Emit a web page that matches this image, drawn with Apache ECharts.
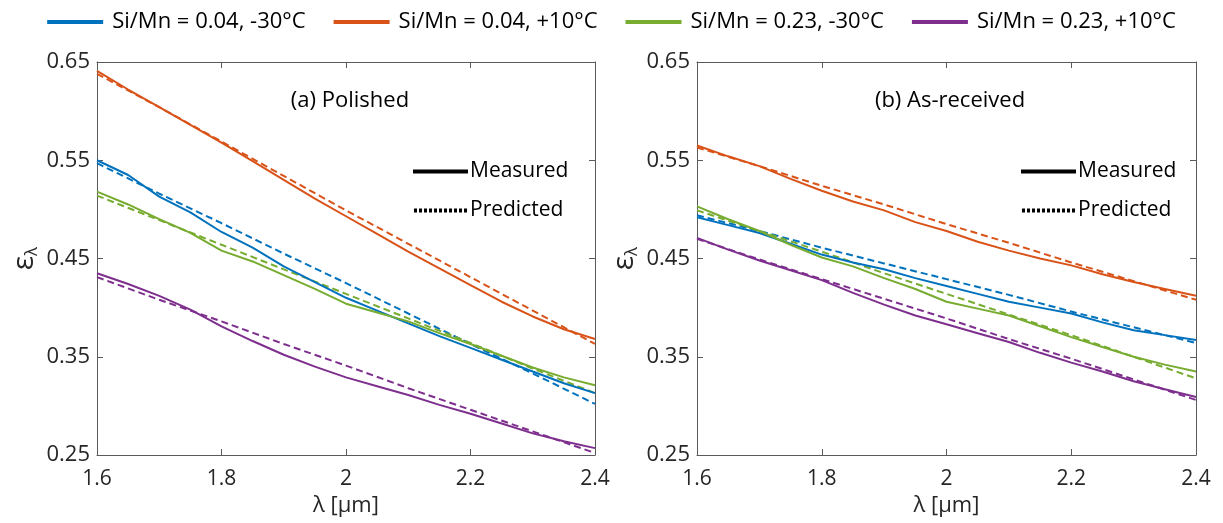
<!DOCTYPE html>
<html>
<head>
<meta charset="utf-8">
<script src="https://cdn.jsdelivr.net/npm/echarts@6/dist/echarts.min.js"></script>
<style>
	html, body { margin: 0; padding: 0; background: #ffffff; }
	#emissivityChart { width: 1223px; height: 523px; }
</style>
</head>
<body>
<div id="emissivityChart"></div>
<script>
	// wavelength grids [um]
	var lambdaMeasured = [1.6, 1.65, 1.7, 1.75, 1.8, 1.85, 1.9, 1.95, 2.0, 2.05, 2.1, 2.15, 2.2, 2.25, 2.3, 2.35, 2.4];
	var lambdaPredicted = [1.6, 1.7, 1.8, 1.9, 2.0, 2.1, 2.2, 2.3, 2.4];

	var xTicks = [1.6, 1.8, 2.0, 2.2, 2.4];
	var yTicks = [0.25, 0.35, 0.45, 0.55, 0.65];

	var seriesNames = ['Si/Mn = 0.04, -30°C', 'Si/Mn = 0.04, +10°C', 'Si/Mn = 0.23, -30°C', 'Si/Mn = 0.23, +10°C'];
	var seriesColors = ['#0072BD', '#D95319', '#77AC30', '#7E2F8E'];

	// (a) polished - measured
	var polishedMeasured004Cold = [0.550, 0.535, 0.513, 0.497, 0.477, 0.461, 0.442, 0.426, 0.410, 0.397, 0.384, 0.371, 0.359, 0.347, 0.335, 0.323, 0.313];
	var polishedMeasured004Warm = [0.641, 0.622, 0.604, 0.586, 0.568, 0.549, 0.530, 0.511, 0.493, 0.475, 0.457, 0.440, 0.423, 0.406, 0.391, 0.378, 0.368];
	var polishedMeasured023Cold = [0.518, 0.505, 0.490, 0.476, 0.458, 0.447, 0.433, 0.419, 0.404, 0.395, 0.386, 0.374, 0.363, 0.351, 0.339, 0.329, 0.321];
	var polishedMeasured023Warm = [0.435, 0.424, 0.412, 0.398, 0.381, 0.366, 0.352, 0.340, 0.329, 0.320, 0.311, 0.301, 0.292, 0.282, 0.272, 0.264, 0.257];

	// (a) polished - predicted
	var polishedPredicted004Cold = [0.547, 0.516, 0.486, 0.455, 0.425, 0.394, 0.363, 0.333, 0.302];
	var polishedPredicted004Warm = [0.638, 0.604, 0.569, 0.534, 0.499, 0.465, 0.431, 0.397, 0.363];
	var polishedPredicted023Cold = [0.514, 0.489, 0.464, 0.439, 0.414, 0.389, 0.364, 0.338, 0.313];
	var polishedPredicted023Warm = [0.431, 0.408, 0.386, 0.363, 0.341, 0.318, 0.296, 0.274, 0.252];

	// (b) as-received - measured
	var asReceivedMeasured004Cold = [0.492, 0.484, 0.476, 0.465, 0.454, 0.446, 0.439, 0.430, 0.422, 0.414, 0.406, 0.400, 0.394, 0.385, 0.377, 0.372, 0.367];
	var asReceivedMeasured004Warm = [0.565, 0.554, 0.544, 0.531, 0.519, 0.508, 0.499, 0.487, 0.478, 0.467, 0.458, 0.450, 0.443, 0.434, 0.426, 0.419, 0.412];
	var asReceivedMeasured023Cold = [0.503, 0.490, 0.478, 0.464, 0.451, 0.442, 0.430, 0.419, 0.406, 0.399, 0.392, 0.381, 0.370, 0.360, 0.350, 0.342, 0.335];
	var asReceivedMeasured023Warm = [0.471, 0.459, 0.448, 0.438, 0.428, 0.415, 0.403, 0.392, 0.383, 0.374, 0.365, 0.354, 0.344, 0.335, 0.325, 0.317, 0.309];

	// (b) as-received - predicted
	var asReceivedPredicted004Cold = [0.494, 0.478, 0.461, 0.445, 0.429, 0.413, 0.396, 0.380, 0.364];
	var asReceivedPredicted004Warm = [0.563, 0.544, 0.524, 0.505, 0.485, 0.466, 0.446, 0.427, 0.408];
	var asReceivedPredicted023Cold = [0.499, 0.478, 0.457, 0.435, 0.414, 0.393, 0.372, 0.350, 0.328];
	var asReceivedPredicted023Warm = [0.470, 0.449, 0.429, 0.409, 0.389, 0.368, 0.348, 0.327, 0.306];

	var fontFamily = 'Open Sans';
	var textColor = '#262626';
	var axisColor = '#5a5a5a';

	var emissivityChart = echarts.init(document.getElementById('emissivityChart'));

	var toPairs = function(xs, ys){
		return xs.map(function(x, i){
			return [x, ys[i]];
		});
	};

	var tickFormatter = function(value){
		return String(+value.toFixed(2));
	};

	// legend icons: a solid bar and a dotted bar, 55 x 4
	var solidIcon = 'path://M0,0H55V4H0Z';
	var dottedIcon = 'path://';
	for (var d = 0; d < 11; d++){
		dottedIcon += 'M' + (d * 5) + ',0h3v4h-3Z';
	}

	// bottom x axis with labels and name
	var bottomAxis = function(gridIndex){
		return {
			type: 'value', gridIndex: gridIndex, position: 'bottom',
			min: 1.6, max: 2.4,
			name: 'λ [μm]', nameLocation: 'middle', nameGap: 38,
			nameTextStyle: { fontSize: 22, color: textColor, fontFamily: fontFamily },
			axisLine: { show: true, onZero: false, lineStyle: { color: axisColor, width: 1 } },
			axisTick: { show: true, inside: true, length: 6, customValues: xTicks, lineStyle: { color: axisColor } },
			axisLabel: { customValues: xTicks, fontSize: 21, color: textColor, fontFamily: fontFamily, margin: 14, formatter: tickFormatter },
			splitLine: { show: false }
		};
	};

	// top x axis, only frame and ticks
	var topAxis = function(gridIndex){
		return {
			type: 'value', gridIndex: gridIndex, position: 'top',
			min: 1.6, max: 2.4,
			axisLine: { show: true, onZero: false, lineStyle: { color: axisColor, width: 1 } },
			axisTick: { show: true, inside: true, length: 6, customValues: xTicks, lineStyle: { color: axisColor } },
			axisLabel: { show: false },
			splitLine: { show: false }
		};
	};

	var leftAxis = function(gridIndex){
		return {
			type: 'value', gridIndex: gridIndex, position: 'left',
			min: 0.25, max: 0.65,
			name: '{e|ε}{l|λ}', nameLocation: 'middle', nameGap: 56, nameRotate: 90,
			nameTextStyle: {
				color: textColor, fontFamily: fontFamily,
				rich: {
					e: { fontSize: 30, color: textColor, fontFamily: fontFamily },
					l: { fontSize: 17, color: textColor, fontFamily: fontFamily, padding: [16, 0, 0, 0] }
				}
			},
			axisLine: { show: true, onZero: false, lineStyle: { color: axisColor, width: 1 } },
			axisTick: { show: true, inside: true, length: 6, customValues: yTicks, lineStyle: { color: axisColor } },
			axisLabel: { customValues: yTicks, fontSize: 22, color: textColor, fontFamily: fontFamily, margin: 7, formatter: tickFormatter },
			splitLine: { show: false }
		};
	};

	var rightAxis = function(gridIndex){
		return {
			type: 'value', gridIndex: gridIndex, position: 'right',
			min: 0.25, max: 0.65,
			axisLine: { show: true, onZero: false, lineStyle: { color: axisColor, width: 1 } },
			axisTick: { show: true, inside: true, length: 6, customValues: yTicks, lineStyle: { color: axisColor } },
			axisLabel: { show: false },
			splitLine: { show: false }
		};
	};

	var measuredLine = function(name, color, axisIndex, values){
		return {
			name: name, type: 'line', xAxisIndex: axisIndex, yAxisIndex: axisIndex,
			data: toPairs(lambdaMeasured, values),
			showSymbol: false, symbol: 'none', silent: true,
			itemStyle: { color: color },
			lineStyle: { color: color, width: 2 },
			z: 3
		};
	};

	var predictedLine = function(name, color, axisIndex, values){
		return {
			name: name + ' (predicted)', type: 'line', xAxisIndex: axisIndex, yAxisIndex: axisIndex,
			data: toPairs(lambdaPredicted, values),
			showSymbol: false, symbol: 'none', silent: true,
			itemStyle: { color: color },
			lineStyle: { color: color, width: 2, type: [7, 4] },
			z: 2
		};
	};

	// black dummy series, only used by the "Measured / Predicted" legends
	var styleKey = function(name, axisIndex){
		return {
			name: name, type: 'line', xAxisIndex: axisIndex, yAxisIndex: axisIndex,
			data: [], symbol: 'none',
			itemStyle: { color: '#000000' },
			lineStyle: { color: '#000000', width: 3 }
		};
	};

	var polishedMeasured = [polishedMeasured004Cold, polishedMeasured004Warm, polishedMeasured023Cold, polishedMeasured023Warm];
	var polishedPredicted = [polishedPredicted004Cold, polishedPredicted004Warm, polishedPredicted023Cold, polishedPredicted023Warm];
	var asReceivedMeasured = [asReceivedMeasured004Cold, asReceivedMeasured004Warm, asReceivedMeasured023Cold, asReceivedMeasured023Warm];
	var asReceivedPredicted = [asReceivedPredicted004Cold, asReceivedPredicted004Warm, asReceivedPredicted023Cold, asReceivedPredicted023Warm];

	var chartSeries = [];
	seriesNames.forEach(function(name, i){
		chartSeries.push(predictedLine(name, seriesColors[i], 0, polishedPredicted[i]));
		chartSeries.push(measuredLine(name, seriesColors[i], 0, polishedMeasured[i]));
		chartSeries.push(predictedLine(name, seriesColors[i], 2, asReceivedPredicted[i]));
		chartSeries.push(measuredLine(name, seriesColors[i], 2, asReceivedMeasured[i]));
	});
	chartSeries.push(styleKey('Measured', 0));
	chartSeries.push(styleKey('Predicted', 0));

	var styleLegend = function(left){
		return {
			data: [{ name: 'Measured', icon: solidIcon }, { name: 'Predicted', icon: dottedIcon }],
			orient: 'vertical', left: left, top: 159, padding: 0,
			itemWidth: 55, itemHeight: 4, itemGap: 14,
			selectedMode: false,
			textStyle: { fontSize: 21, lineHeight: 25, color: '#000000', fontFamily: fontFamily, padding: [0, 0, 0, -3] }
		};
	};

	var chartOptions = {
		animation: false,
		backgroundColor: '#ffffff',
		title: [
			{ text: '(a) Polished', left: 345, top: 85, textAlign: 'center',
				textStyle: { fontSize: 22, fontWeight: 'normal', color: '#000000', fontFamily: fontFamily } },
			{ text: '(b) As-received', left: 945, top: 85, textAlign: 'center',
				textStyle: { fontSize: 22, fontWeight: 'normal', color: '#000000', fontFamily: fontFamily } }
		],
		legend: [
			{
				data: seriesNames.map(function(name){ return { name: name, icon: 'rect' }; }),
				top: 6, left: 'center',
				itemWidth: 56, itemHeight: 4, itemGap: 28,
				textStyle: { fontSize: 22, color: '#000000', fontFamily: fontFamily, padding: [0, 0, 0, 4] }
			},
			styleLegend(413),
			styleLegend(1021)
		],
		grid: [
			{ left: 97, right: 628, top: 62, bottom: 68 },
			{ left: 697, right: 27, top: 62, bottom: 68 }
		],
		xAxis: [bottomAxis(0), topAxis(0), bottomAxis(1), topAxis(1)],
		yAxis: [leftAxis(0), rightAxis(0), leftAxis(1), rightAxis(1)],
		series: chartSeries
	};

	emissivityChart.setOption(chartOptions);
</script>
</body>
</html>
